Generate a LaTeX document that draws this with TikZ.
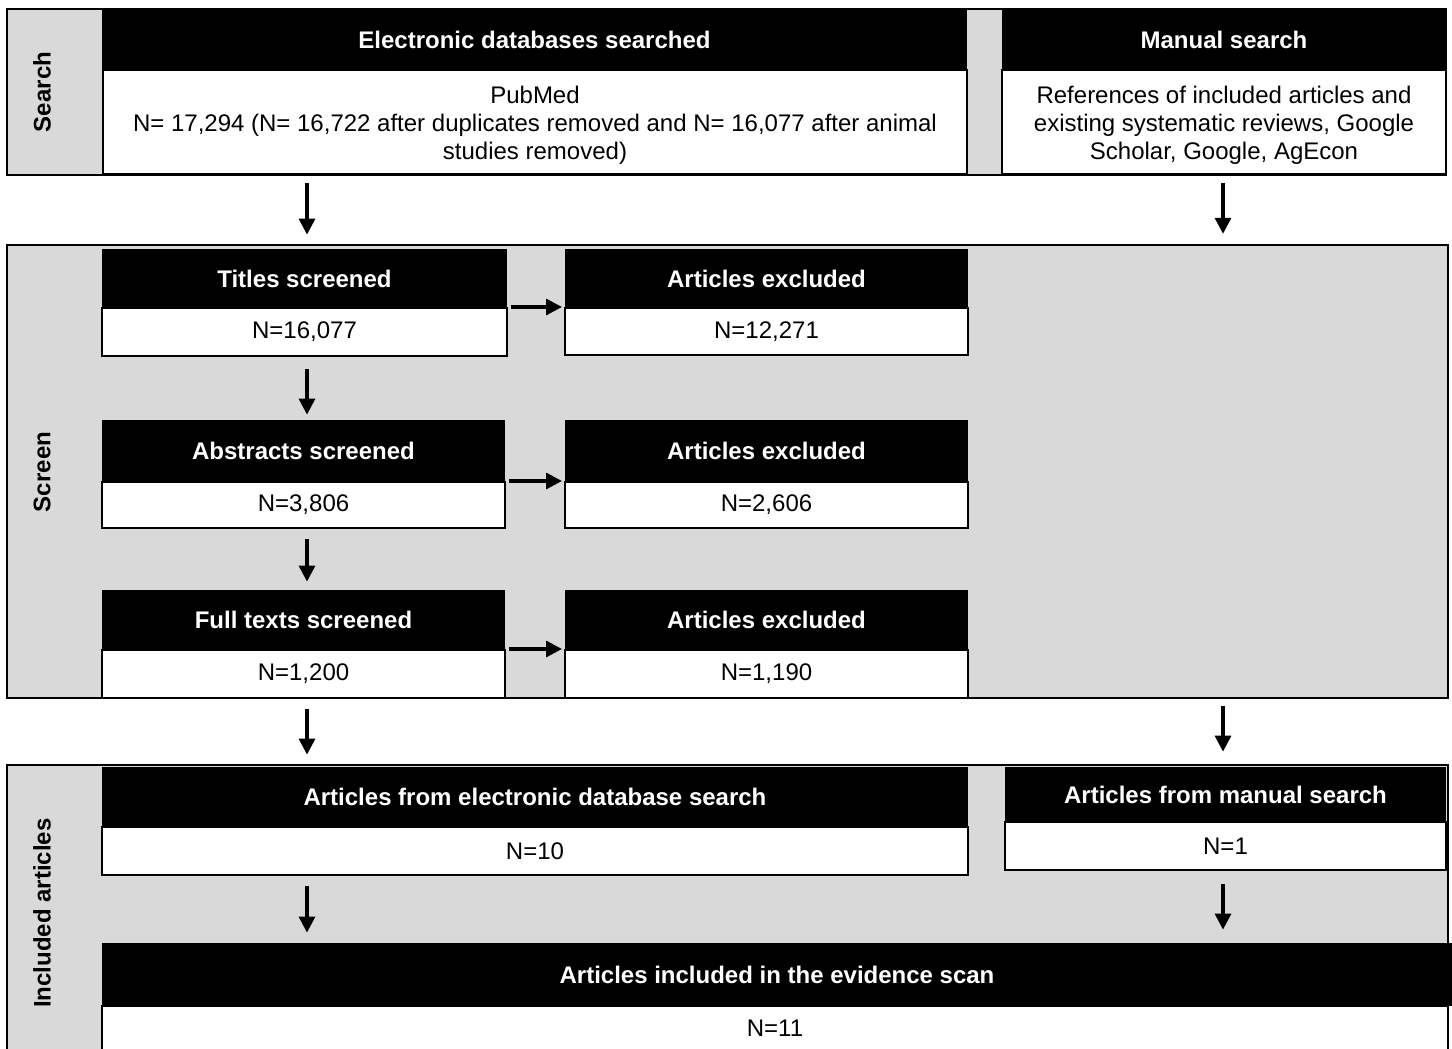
\documentclass[tikz,border=0pt]{standalone}
\usepackage{fontspec}
\setmainfont{Liberation Sans}
\usetikzlibrary{fit,arrows.meta}
\definecolor{panelgray}{HTML}{D9D9D9}
\begin{document}
\begin{tikzpicture}[x=0.5pt,y=-0.5pt,
  font=\fontsize{12pt}{14pt}\selectfont,
  panel/.style={draw=black, fill=panelgray, line width=1.2pt, inner sep=0pt},
  hdr/.style={fill=black, inner sep=0pt},
  body/.style={draw=black, fill=white, line width=1pt, inner sep=0pt},
  hdrtxt/.style={text=white, font=\fontsize{12pt}{14pt}\selectfont\bfseries, inner sep=0pt},
  bodytxt/.style={align=center, inner sep=0pt},
  lbl/.style={rotate=90, font=\fontsize{12pt}{14pt}\selectfont\bfseries},
  arr/.style={-{Triangle[width=8pt,length=8pt]}, line width=1.6pt},
]
\useasboundingbox (0,0) rectangle (1452,1049);
\clip (0,0) rectangle (1452,1049);
\fill[white] (0,0) rectangle (1452,1049);
\coordinate (colL) at (307,0);
\coordinate (colR) at (1223,0);

% ---------- Search ----------
\node[panel, fit={(7,9) (1446,175)}] (searchP) {};
\node[lbl] (searchL) at (42,92) {Search};
\node[hdr, fit={(102,9) (967,70)}] (elecH) {};
\node[hdrtxt] (elecHt) at (elecH.center) {Electronic databases searched};
\node[body, fit={(103,70) (967,174)}] (elecN) {};
\node[bodytxt, yshift=-1.5pt] (elecNt) at (elecN.center) {PubMed\\N= 17,294 (N= 16,722 after duplicates removed and N= 16,077 after animal\\studies removed)};
\node[hdr, fit={(1002,9) (1446,70)}] (manH) {};
\node[hdrtxt] (manHt) at (manH.center) {Manual search};
\node[body, fit={(1002,70) (1446,174)}] (manN) {};
\node[bodytxt, yshift=-1.5pt] (manNt) at (manN.center) {References of included articles and\\existing systematic reviews, Google\\Scholar, Google, AgEcon};

% ---------- Screen ----------
\node[panel, fit={(7,245) (1448,698)}] (screenP) {};
\node[lbl] (screenL) at (42,472) {Screen};

\node[hdr, fit={(102,249) (507,308)}] (titlesH) {};
\node[hdrtxt] (titlesHt) at (titlesH.center) {Titles screened};
\node[body, fit={(102,308) (507,356)}] (titlesN) {};
\node[bodytxt] (titlesNt) at (titlesN.center) {N=16,077};
\node[hdr, fit={(565,249) (968,308)}] (ex1H) {};
\node[hdrtxt] (ex1Ht) at (ex1H.center) {Articles excluded};
\node[body, fit={(565,308) (968,355)}] (ex1N) {};
\node[bodytxt] (ex1Nt) at (ex1N.center) {N=12,271};

\node[hdr, fit={(102,420) (505,482)}] (absH) {};
\node[hdrtxt] (absHt) at (absH.center) {Abstracts screened};
\node[body, fit={(102,482) (505,528)}] (absN) {};
\node[bodytxt] (absNt) at (absN.center) {N=3,806};
\node[hdr, fit={(565,420) (968,482)}] (ex2H) {};
\node[hdrtxt] (ex2Ht) at (ex2H.center) {Articles excluded};
\node[body, fit={(565,482) (968,528)}] (ex2N) {};
\node[bodytxt] (ex2Nt) at (ex2N.center) {N=2,606};

\node[hdr, fit={(102,590) (505,650)}] (fullH) {};
\node[hdrtxt] (fullHt) at (fullH.center) {Full texts screened};
\node[body, fit={(102,650) (505,698)}] (fullN) {};
\node[bodytxt] (fullNt) at (fullN.center) {N=1,200};
\node[hdr, fit={(565,590) (968,650)}] (ex3H) {};
\node[hdrtxt] (ex3Ht) at (ex3H.center) {Articles excluded};
\node[body, fit={(565,650) (968,698)}] (ex3N) {};
\node[bodytxt] (ex3Nt) at (ex3N.center) {N=1,190};

% ---------- Included ----------
\node[panel, fit={(7,765) (1448,1080)}] (inclP) {};
\node[lbl] (inclL) at (42,913) {Included articles};
\node[hdr, fit={(102,767) (968,827)}] (elecRH) {};
\node[hdrtxt] (elecRHt) at (elecRH.center) {Articles from electronic database search};
\node[body, fit={(102,827) (968,875)}] (elecRN) {};
\node[bodytxt] (elecRNt) at (elecRN.center) {N=10};
\node[hdr, fit={(1005,767) (1446,822)}] (manRH) {};
\node[hdrtxt] (manRHt) at (manRH.center) {Articles from manual search};
\node[body, fit={(1005,822) (1446,870)}] (manRN) {};
\node[bodytxt] (manRNt) at (manRN.center) {N=1};
\node[hdr, fit={(102,943) (1452,1006)}] (finalH) {};
\node[hdrtxt] (finalHt) at (finalH.center) {Articles included in the evidence scan};
\node[body, fit={(102,1006) (1448,1050)}] (finalN) {};
\node[bodytxt] (finalNt) at (finalN.center) {N=11};

% ---------- Arrows ----------
\draw[arr, shorten <=4pt, shorten >=7pt] (elecN.south -| colL) -- (titlesH.north -| colL);
\draw[arr, shorten <=4pt, shorten >=5pt] (manN.south -| colR) -- (screenP.north -| colR);

\draw[arr, shorten <=1.5pt, shorten >=1pt] (titlesN.north east) -- (ex1N.north west);
\draw[arr, shorten <=1.5pt, shorten >=1pt] (absN.north east) -- (ex2N.north west);
\draw[arr, shorten <=1.5pt, shorten >=1pt] (fullN.north east) -- (ex3N.north west);

\draw[arr, shorten <=6pt, shorten >=2.5pt] (titlesN.south -| colL) -- (absH.north -| colL);
\draw[arr, shorten <=5pt, shorten >=4pt] (absN.south -| colL) -- (fullH.north -| colL);

\draw[arr, shorten <=5pt, shorten >=6pt] (fullN.south -| colL) -- (elecRH.north -| colL);
\draw[arr, shorten <=3.5pt, shorten >=7.5pt] (screenP.south -| colR) -- (manRH.north -| colR);

\draw[arr, shorten <=5pt, shorten >=5pt] (elecRN.south -| colL) -- (finalH.north -| colL);
\draw[arr, shorten <=6.5pt, shorten >=6.5pt] (manRN.south -| colR) -- (finalH.north -| colR);
\end{tikzpicture}
\end{document}
